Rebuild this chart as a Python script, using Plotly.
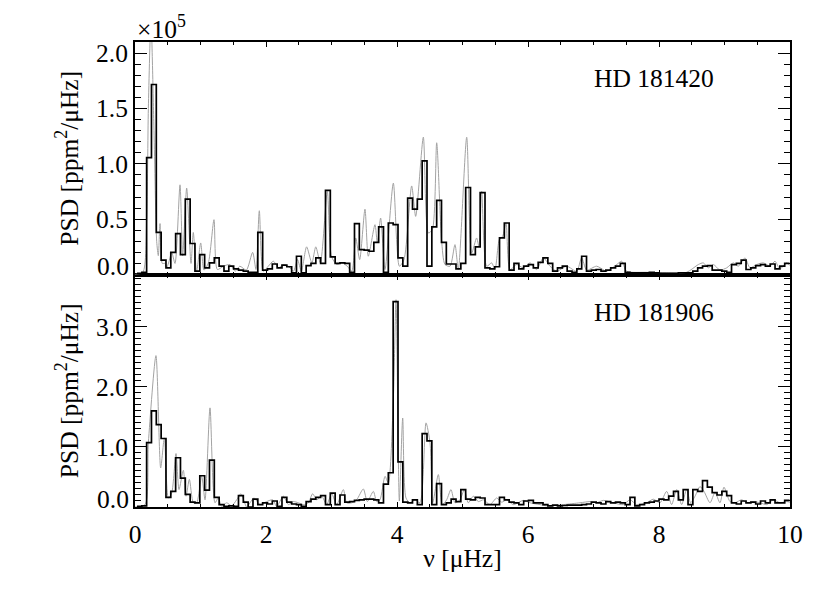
import numpy as np
import plotly.graph_objects as go

# frequency grid of the binned spectra (muHz)
DF = 0.0738
F0 = 0.03

# HD 181420, binned PSD (x 1e5 ppm^2/muHz), one value per bin
psd_181420 = [0.01, 0.02, 1.056, 1.716, 0.38, 0.13, 0.06, 0.2, 0.37, 0.18,
              0.68, 0.28, 0.03, 0.18, 0.06, 0.105, 0.15, 0.075, 0.03, 0.075,
              0.05, 0.04, 0.03, 0.02, 0.02, 0.38, 0.04, 0.05, 0.095, 0.06,
              0.085, 0.07, 0.015, 0.165, 0.015, 0.08, 0.1, 0.15, 0.1, 0.76,
              0.16, 0.1, 0.105, 0.1, 0.02, 0.46, 0.225, 0.22, 0.21, 0.29,
              0.43, 0.02, 0.465, 0.45, 0.15, 0.075, 0.69, 0.59, 0.68, 1.026,
              0.075, 0.43, 0.67, 0.29, 0.095, 0.095, 0.05, 0.1, 0.786, 0.18,
              0.25, 0.74, 0.06, 0.05, 0.07, 0.33, 0.465, 0.04, 0.1, 0.05,
              0.075, 0.09, 0.06, 0.11, 0.15, 0.1, 0.03, 0.06, 0.075, 0.03,
              0.02, 0.05, 0.165, 0.03, 0.04, 0.045, 0.03, 0.04, 0.06, 0.075,
              0.1, 0.02, 0.015, 0.015, 0.015, 0.015, 0.02, 0.015, 0.01, 0.01,
              0.01, 0.01, 0.015, 0.015, 0.015, 0.03, 0.06, 0.075, 0.08, 0.04,
              0.04, 0.03, 0.02, 0.09, 0.1, 0.13, 0.045, 0.06, 0.08, 0.09,
              0.075, 0.095, 0.05, 0.075, 0.1]

# HD 181906, binned PSD
psd_181906 = [0.01, 0.02, 1.07, 1.6, 1.37, 1.14, 0.16, 0.26, 0.82, 0.48,
              0.21, 0.08, 0.07, 0.52, 0.28, 0.78, 0.16, 0.04, 0.01, 0.02,
              0.01, 0.19, 0.08, 0.0, 0.13, 0.04, 0.07, 0.05, 0.1, 0.01,
              0.16, 0.08, 0.05, 0.04, 0.01, 0.09, 0.13, 0.16, 0.19, 0.04,
              0.23, 0.04, 0.2, 0.08, 0.09, 0.11, 0.12, 0.13, 0.13, 0.12,
              0.07, 0.38, 0.57, 3.42, 0.75, 0.08, 0.07, 0.12, 0.04, 1.22,
              1.1, 0.04, 0.39, 0.04, 0.07, 0.13, 0.09, 0.29, 0.13, 0.12,
              0.16, 0.15, 0.04, 0.04, 0.04, 0.16, 0.12, 0.08, 0.07, 0.04,
              0.1, 0.11, 0.07, 0.07, 0.04, 0.02, 0.03, 0.02, 0.025, 0.03,
              0.03, 0.03, 0.04, 0.05, 0.08, 0.07, 0.05, 0.09, 0.07, 0.08,
              0.07, 0.04, 0.16, 0.02, 0.04, 0.07, 0.08, 0.1, 0.13, 0.12,
              0.18, 0.26, 0.12, 0.29, 0.04, 0.29, 0.26, 0.44, 0.33, 0.24,
              0.2, 0.26, 0.19, 0.07, 0.05, 0.1, 0.07, 0.08, 0.05, 0.1,
              0.07, 0.12, 0.07, 0.07, 0.11]

# oversampled spectra (grey), read at their turning points
fine_x_181420 = [0.0, 0.12, 0.178, 0.204, 0.244, 0.29, 0.331, 0.356, 0.382, 0.417,
                 0.458, 0.483, 0.52, 0.56, 0.611, 0.687, 0.728, 0.789, 0.855, 0.89,
                 0.941, 1.003, 1.053, 1.12, 1.206, 1.257, 1.35, 1.45, 1.53, 1.6,
                 1.70, 1.796, 1.847, 1.898, 1.959, 2.035, 2.112, 2.19, 2.265, 2.34,
                 2.42, 2.48, 2.54, 2.62, 2.70, 2.76, 2.83, 2.936, 3.0, 3.08,
                 3.16, 3.24, 3.31, 3.37, 3.43, 3.511, 3.562, 3.664, 3.70, 3.75,
                 3.817, 3.944, 4.036, 4.107, 4.224, 4.285, 4.402, 4.478, 4.54, 4.606,
                 4.68, 4.733, 4.81, 4.885, 4.936, 5.064, 5.14, 5.216, 5.25, 5.293,
                 5.369, 5.445, 5.496, 5.562, 5.613, 5.664, 5.725, 5.827, 5.929, 6.031,
                 6.132, 6.234, 6.336, 6.438, 6.59, 6.743, 6.819, 6.896, 7.048, 7.201,
                 7.354, 7.43, 7.506, 7.812, 8.117, 8.422, 8.6, 8.677, 8.753, 8.83,
                 8.931, 9.033, 9.135, 9.211, 9.313, 9.389, 9.491, 9.593, 9.695, 9.771,
                 9.847, 9.949, 10.0]
fine_y_181420 = [0.0, 0.02, 0.5, 1.5, 2.3, 1.3, 0.3, 0.17, 0.46, 0.1,
                 0.1, 0.06, 0.12, 0.2, 0.1, 0.81, 0.17, 0.78, 0.1, 0.38,
                 0.03, 0.285, 0.04, 0.105, 0.495, 0.045, 0.075, 0.09, 0.03, 0.075,
                 0.04, 0.2, 0.045, 0.576, 0.03, 0.075, 0.12, 0.06, 0.09, 0.075,
                 0.03, 0.135, 0.03, 0.25, 0.105, 0.25, 0.105, 0.75, 0.165, 0.09,
                 0.105, 0.075, 0.03, 0.33, 0.135, 0.59, 0.165, 0.45, 0.285, 0.51,
                 0.045, 0.825, 0.075, 0.135, 0.80, 0.525, 1.24, 0.375, 0.405, 1.19,
                 0.315, 0.09, 0.075, 0.27, 0.045, 1.24, 0.195, 0.33, 0.255, 0.75,
                 0.075, 0.105, 0.045, 0.315, 0.345, 0.465, 0.045, 0.09, 0.06, 0.105,
                 0.045, 0.15, 0.075, 0.03, 0.075, 0.03, 0.15, 0.04, 0.075, 0.03,
                 0.09, 0.12, 0.03, 0.02, 0.015, 0.02, 0.09, 0.105, 0.06, 0.09,
                 0.04, 0.06, 0.105, 0.075, 0.15, 0.06, 0.09, 0.105, 0.075, 0.12,
                 0.05, 0.105, 0.08]

fine_x_181906 = [0.0, 0.153, 0.204, 0.32, 0.392, 0.448, 0.509, 0.56, 0.626, 0.672,
                 0.738, 0.779, 0.83, 0.891, 0.941, 1.018, 1.069, 1.145, 1.221, 1.272,
                 1.323, 1.399, 1.476, 1.552, 1.618, 1.705, 1.756, 1.817, 1.908, 2.01,
                 2.102, 2.163, 2.265, 2.341, 2.417, 2.494, 2.57, 2.646, 2.712, 2.774,
                 2.85, 2.926, 3.003, 3.079, 3.181, 3.232, 3.308, 3.384, 3.486, 3.547,
                 3.639, 3.69, 3.74, 3.817, 3.868, 3.944, 3.985, 4.036, 4.087, 4.137,
                 4.198, 4.275, 4.351, 4.443, 4.504, 4.545, 4.631, 4.692, 4.758, 4.824,
                 4.885, 4.962, 5.028, 5.089, 5.165, 5.242, 5.318, 5.42, 5.522, 5.598,
                 5.674, 5.776, 5.929, 6.031, 6.183, 6.285, 6.539, 6.794, 6.947, 7.048,
                 7.15, 7.303, 7.455, 7.557, 7.659, 7.812, 7.913, 8.015, 8.117, 8.193,
                 8.27, 8.346, 8.422, 8.483, 8.55, 8.626, 8.687, 8.779, 8.855, 8.931,
                 8.992, 9.084, 9.16, 9.262, 9.338, 9.44, 9.542, 9.644, 9.746, 9.847,
                 9.949, 10.0]
fine_y_181906 = [0.0, 0.04, 1.07, 2.52, 0.65, 1.15, 0.15, 0.23, 0.89, 0.29,
                 0.61, 0.18, 0.46, 0.07, 0.07, 0.51, 0.12, 1.65, 0.07, 0.15,
                 0.01, 0.07, 0.02, 0.12, 0.22, 0.0, 0.07, 0.15, 0.04, 0.09,
                 0.12, 0.01, 0.18, 0.04, 0.09, 0.07, 0.04, 0.07, 0.22, 0.12,
                 0.18, 0.04, 0.22, 0.04, 0.29, 0.07, 0.07, 0.12, 0.3, 0.09,
                 0.26, 0.09, 0.12, 0.51, 0.4, 1.8, 3.45, 0.1, 1.48, 0.15,
                 0.07, 0.12, 0.07, 1.4, 1.07, 0.07, 0.54, 0.04, 0.12, 0.29,
                 0.07, 0.12, 0.29, 0.07, 0.18, 0.09, 0.12, 0.04, 0.15, 0.08,
                 0.12, 0.04, 0.11, 0.07, 0.04, 0.02, 0.04, 0.07, 0.09, 0.07,
                 0.11, 0.07, 0.04, 0.12, 0.04, 0.07, 0.13, 0.07, 0.26, 0.04,
                 0.29, 0.04, 0.29, 0.07, 0.18, 0.34, 0.26, 0.07, 0.24, 0.07,
                 0.33, 0.09, 0.07, 0.12, 0.07, 0.09, 0.07, 0.04, 0.12, 0.07,
                 0.09, 0.08]

FONT = "Liberation Serif, Times New Roman, Times, serif"
FS = 25.5


def step_xy(vals):
    edges = F0 + DF * np.arange(len(vals) + 1)
    return edges, list(vals) + [vals[-1]]


def main():
    fig = go.Figure()

    panels = [
        (fine_x_181420, fine_y_181420, psd_181420, "x2", "y2"),
        (fine_x_181906, fine_y_181906, psd_181906, "x", "y"),
    ]
    for fx, fy, psd, xa, ya in panels:
        fig.add_trace(go.Scatter(x=fx, y=fy, mode="lines", xaxis=xa, yaxis=ya,
                                 line=dict(color="#a3a3a3", width=1, shape="spline", smoothing=0.7)))
        sx, sy = step_xy(psd)
        fig.add_trace(go.Scatter(x=sx, y=sy, mode="lines", xaxis=xa, yaxis=ya,
                                 line=dict(color="black", width=1.7, shape="hv")))

    axis_common = dict(showline=True, linecolor="black", linewidth=2, mirror="allticks",
                       ticks="inside", tickcolor="black", showgrid=False, zeroline=False,
                       automargin=False,
                       tickfont=dict(family=FONT, size=FS, color="black"))
    ytitle = dict(text="PSD [ppm<sup>2</sup>/μHz]", font=dict(family=FONT, size=FS), standoff=10)

    # page body adds an 8px offset, so the figure is 8px smaller than the window
    fig.update_layout(
        width=822, height=585,
        margin=dict(l=127, r=40, t=34, b=86),
        paper_bgcolor="white", plot_bgcolor="white",
        showlegend=False,
        font=dict(family=FONT, size=FS, color="black"),
        xaxis=dict(domain=[0, 1], anchor="y", range=[0, 10], dtick=2, tickwidth=1.3, ticklen=5,
                   minor=dict(ticks="inside", dtick=0.5, ticklen=3, tickcolor="black", tickwidth=1.3),
                   ticklabelstandoff=3,
                   title=dict(text="ν [μHz]", font=dict(family=FONT, size=FS), standoff=2),
                   **axis_common),
        xaxis2=dict(domain=[0, 1], anchor="y2", matches="x", range=[0, 10], dtick=2, tickwidth=1.3,
                    ticklen=5, showticklabels=False,
                    minor=dict(ticks="inside", dtick=0.5, ticklen=3, tickcolor="black", tickwidth=1.3),
                    **axis_common),
        yaxis=dict(domain=[0, 0.5], anchor="x", range=[0, 3.87],
                   tickvals=[0, 1, 2, 3], ticktext=["", "1.0", "2.0", "3.0"],
                   ticklen=12, tickwidth=1.3, ticklabelstandoff=0,
                   minor=dict(ticks="inside", dtick=0.1, ticklen=6, tickcolor="black", tickwidth=1.3),
                   title=ytitle, **axis_common),
        yaxis2=dict(domain=[0.5, 1], anchor="x2", range=[0, 2.1],
                    tickvals=[0, 0.5, 1.0, 1.5, 2.0], ticktext=["", "0.5", "1.0", "1.5", "2.0"],
                    ticklen=12, tickwidth=1.3, ticklabelstandoff=0,
                    minor=dict(ticks="inside", dtick=0.1, ticklen=6, tickcolor="black", tickwidth=1.3),
                    title=ytitle, **axis_common),
    )

    notes = [
        dict(text="×10<sup>5</sup>", xref="paper", yref="paper", x=0, y=1,
             xanchor="left", yanchor="bottom", yshift=-4),
        dict(text="HD 181420", xref="x2", yref="y2", x=7.92, y=1.77,
             xanchor="center", yanchor="middle"),
        dict(text="HD 181906", xref="x", yref="y", x=7.92, y=3.23,
             xanchor="center", yanchor="middle"),
        dict(text="0.0", xref="paper", yref="y2", x=0, y=0, xanchor="right",
             yanchor="middle", xshift=-4, yshift=8),
        dict(text="0.0", xref="paper", yref="y", x=0, y=0, xanchor="right",
             yanchor="middle", xshift=-4, yshift=8),
    ]
    for n in notes:
        fig.add_annotation(showarrow=False, font=dict(family=FONT, size=FS, color="black"), **n)

    fig.write_html("out.html")


if __name__ == '__main__':
    main()
